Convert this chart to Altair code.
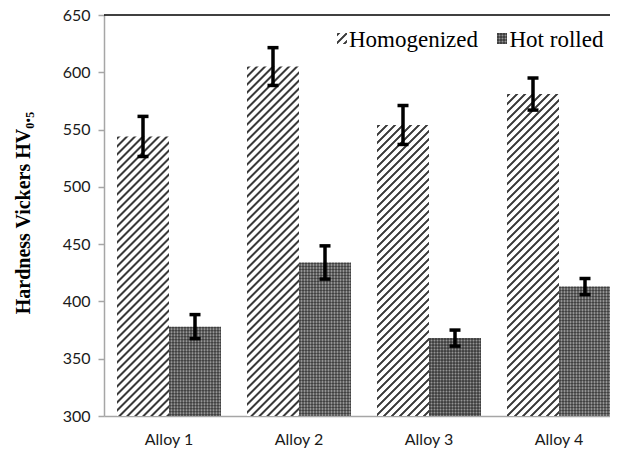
import altair as alt
import pandas as pd

# ---------------- data ----------------
alloys = ["Alloy 1", "Alloy 2", "Alloy 3", "Alloy 4"]
series = ["Homogenized", "Hot rolled"]
homog = [544, 605, 554, 581]
homog_err = [17.5, 16.5, 17, 14]
hot = [378, 434, 368, 413]
hot_err = [10.5, 14.5, 7, 7]
y_ticks = [300, 350, 400, 450, 500, 550, 600, 650]

rows = []
for a, v, e in zip(alloys, homog, homog_err):
    rows.append({"alloy": a, "series": series[0], "value": v, "lo": v - e, "hi": v + e})
for a, v, e in zip(alloys, hot, hot_err):
    rows.append({"alloy": a, "series": series[1], "value": v, "lo": v - e, "hi": v + e})
df = pd.DataFrame(rows)

# ---------------- layout / style ----------------
W_PLOT = 506
X_RANGE = 520
H_PLOT = 401
Y_MIN, Y_MAX = 300, 650
PX = H_PLOT / (Y_MAX - Y_MIN)
BAR_W = X_RANGE / 4 * 0.8 / 2
AXIS_GRAY = "#a6a6a6"
HATCH_DARK = "#3a3a3a"


def stripe_stops(L, period, duty, dark, light, soft):
    f = period / L
    d = soft / L
    out = []
    n = int(L / period) + 2
    for i in range(n):
        s = i * f
        for o, c in [(s, light), (s + d, dark), (s + duty * f, dark), (s + duty * f + d, light)]:
            if o <= 1:
                out.append({"offset": round(o, 5), "color": c})
    return out


def hatch(w, h):
    L = w + h
    den = w * w + h * h
    return {"gradient": "linear", "x1": 0, "y1": 0,
            "x2": round(w * L / den, 5), "y2": round(h * L / den, 5),
            "stops": stripe_stops(L, 8, 0.36, HATCH_DARK, "#ffffff", 1.2)}


def vstripes(w):
    return {"gradient": "linear", "x1": 0, "y1": 0, "x2": 1, "y2": 0,
            "stops": stripe_stops(w, 3, 0.5, "rgba(0,0,0,0.34)", "rgba(0,0,0,0)", 0.5)}


def hstripes(h):
    return {"gradient": "linear", "x1": 0, "y1": 0, "x2": 0, "y2": 1,
            "stops": stripe_stops(h, 3, 0.5, "rgba(0,0,0,0.34)", "rgba(0,0,0,0)", 0.5)}


CHECK_BASE = "#959595"

x_scale = alt.Scale(domain=alloys, range=[0, X_RANGE], paddingInner=0.2, paddingOuter=0.1)
y_scale = alt.Scale(domain=[Y_MIN, Y_MAX], nice=False, zero=False)

x_axis = alt.Axis(title=None, ticks=False, labelAngle=0, labelFont="Lato", labelFontSize=16,
                  labelColor="#1a1a1a", labelPadding=15, domainColor=AXIS_GRAY, domainWidth=1.5)
y_axis = alt.Axis(values=y_ticks, grid=False, tickSize=6, tickColor=AXIS_GRAY, tickWidth=1.5,
                  domainColor=AXIS_GRAY, domainWidth=1.5, labelFont="Lato", labelFontSize=16,
                  labelColor="#1a1a1a", labelPadding=8,
                  title="Hardness Vickers HV\u2080.\u2085", titleFont="Liberation Serif",
                  titleFontSize=20, titleFontWeight="bold", titleColor="#000000",
                  titleAngle=270, titleX=-81, titleY=H_PLOT / 2 - 3, titleAlign="center",
                  titleBaseline="middle")

X = alt.X("alloy:N", scale=x_scale, axis=x_axis, sort=alloys)
XO = alt.XOffset("series:N", scale=alt.Scale(domain=series, paddingInner=0, paddingOuter=0))

base = alt.Chart(df)
layers = []

for a, v in zip(alloys, homog):
    h = (v - Y_MIN) * PX
    layers.append(
        base.transform_filter((alt.datum.alloy == a) & (alt.datum.series == series[0]))
        .mark_bar(fill=hatch(BAR_W, h))
        .encode(x=X, xOffset=XO, y=alt.Y("value:Q", scale=y_scale, axis=y_axis), y2=alt.datum(Y_MIN))
    )
for a, v in zip(alloys, hot):
    h = (v - Y_MIN) * PX
    for fill in (CHECK_BASE, vstripes(BAR_W), hstripes(h)):
        layers.append(
            base.transform_filter((alt.datum.alloy == a) & (alt.datum.series == series[1]))
            .mark_bar(fill=fill)
            .encode(x=X, xOffset=XO, y=alt.Y("value:Q", scale=y_scale, axis=y_axis), y2=alt.datum(Y_MIN))
        )

# error bars
layers.append(
    base.mark_rule(color="black", strokeWidth=3.5).encode(
        x=X, xOffset=XO, y=alt.Y("lo:Q", scale=y_scale, axis=y_axis), y2="hi:Q")
)
for fld in ("lo", "hi"):
    layers.append(
        base.mark_tick(color="black", size=11, thickness=3.5, opacity=1).encode(
            x=X, xOffset=XO, y=alt.Y(f"{fld}:Q", scale=y_scale, axis=y_axis))
    )

# top border line
layers.append(
    alt.Chart(pd.DataFrame({"k": [0]})).mark_rule(color="black", strokeWidth=1.5).encode(
        x=alt.value(0), x2=alt.value(X_RANGE), y=alt.value(0))
)

# legend (manual, to show the fill patterns)
one = pd.DataFrame({"k": [0]})
layers.append(alt.Chart(one).mark_rect(fill=hatch(10, 11)).encode(
    x=alt.value(233), x2=alt.value(243), y=alt.value(18), y2=alt.value(29)))
for fill in (CHECK_BASE, vstripes(10), hstripes(11)):
    layers.append(alt.Chart(one).mark_rect(fill=fill).encode(
        x=alt.value(393), x2=alt.value(403), y=alt.value(18), y2=alt.value(29)))
legend_text = pd.DataFrame({"label": series, "lx": [245, 405.5]})
layers.append(alt.Chart(legend_text).mark_text(
    font="Liberation Serif", fontSize=23, align="left", baseline="alphabetic", color="#000000").encode(
    x=alt.X("lx:Q", scale=None), y=alt.value(32), text="label:N"))

chart = alt.layer(*layers).properties(
    width=W_PLOT, height=H_PLOT,
    autosize=alt.AutoSizeParams(type="none"),
    padding={"left": 96, "top": 7, "right": 0, "bottom": 36},
    background="white",
).configure_view(stroke=None)

chart.save("out.html", embed_options={"renderer": "svg", "actions": False})
